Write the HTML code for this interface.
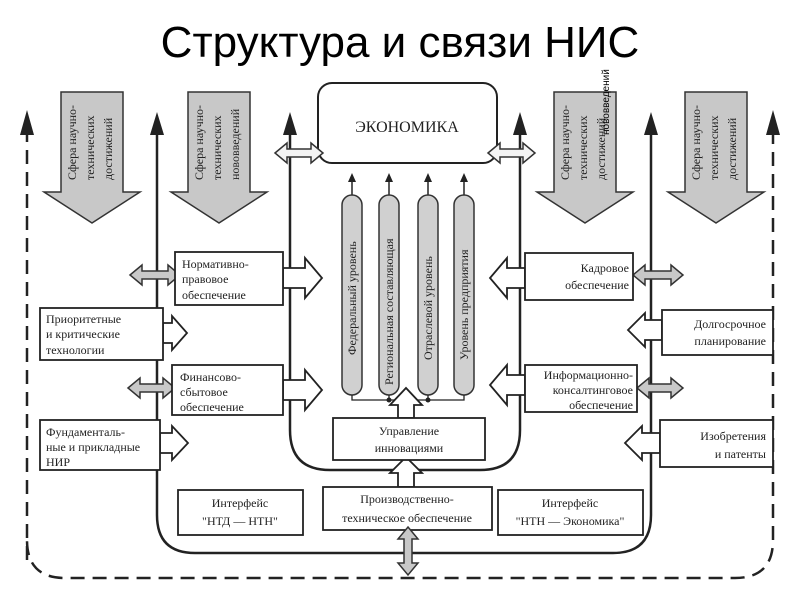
<!DOCTYPE html>
<html><head><meta charset="utf-8"><style>
html,body{margin:0;padding:0;background:#fff;}
svg{display:block;}
.s{font-family:"Liberation Serif","Noto Serif CJK SC",serif;fill:#222;}
</style></head><body>
<svg width="800" height="600" viewBox="0 0 800 600" xmlns="http://www.w3.org/2000/svg">
<defs>
<marker id="ah" markerWidth="8" markerHeight="10" refX="4" refY="10" orient="auto-start-reverse" markerUnits="userSpaceOnUse"><path d="M0,10 L4,0 L8,10 Z" fill="#222"/></marker>
</defs>
<text x="400" y="57" text-anchor="middle" font-family="Liberation Sans, sans-serif" font-size="44" fill="#000">Структура и связи НИС</text>

<!-- dashed outer -->
<path d="M27,560 L27,130 M773,130 L773,540 Q773,578 735,578 L65,578 Q27,578 27,540" fill="none" stroke="#222" stroke-width="2.5" stroke-dasharray="14,8"/>
<path d="M20,135 L27,110 L34,135 Z M766,135 L773,110 L780,135 Z" fill="#222"/>

<!-- solid verticals -->
<path d="M157,125 L157,515 Q157,553 195,553 L613,553 Q651,553 651,515 L651,125" fill="none" stroke="#222" stroke-width="2.5"/>
<path d="M290,125 L290,430 Q290,470 330,470 L480,470 Q520,470 520,430 L520,125" fill="none" stroke="#222" stroke-width="2.5"/>
<path d="M150,135 L157,112 L164,135 Z M283,135 L290,112 L297,135 Z M513,135 L520,112 L527,135 Z M644,135 L651,112 L658,135 Z" fill="#222"/>

<!-- big gray arrows -->
<g fill="#c8c8c8" stroke="#333" stroke-width="1.5">
<path d="M61,92 L123,92 L123,192 L140,192 L92,223 L44,192 L61,192 Z"/>
<path d="M188,92 L250,92 L250,192 L267,192 L219,223 L171,192 L188,192 Z"/>
<path d="M554,92 L616,92 L616,192 L633,192 L585,223 L537,192 L554,192 Z"/>
<path d="M685,92 L747,92 L747,192 L764,192 L716,223 L668,192 L685,192 Z"/>
</g>
<g class="s" font-size="12">
<text transform="translate(76,180) rotate(-90)">Сфера научно-</text>
<text transform="translate(94,180) rotate(-90)">технических</text>
<text transform="translate(112,180) rotate(-90)">достижений</text>
<text transform="translate(203,180) rotate(-90)">Сфера научно-</text>
<text transform="translate(221,180) rotate(-90)">технических</text>
<text transform="translate(239,180) rotate(-90)">нововведений</text>
<text transform="translate(569,180) rotate(-90)">Сфера научно-</text>
<text transform="translate(587,180) rotate(-90)">технических</text>
<text transform="translate(605,180) rotate(-90)">достижений</text>
<text transform="translate(700,180) rotate(-90)">Сфера научно-</text>
<text transform="translate(718,180) rotate(-90)">технических</text>
<text transform="translate(736,180) rotate(-90)">достижений</text>
</g>
<text transform="translate(609,135) rotate(-90)" font-family="Liberation Sans, sans-serif" font-size="10" fill="#000">нововведений</text>

<!-- economics -->
<rect x="318" y="83" width="179" height="80" rx="14" fill="#fff" stroke="#222" stroke-width="2"/>
<text x="407" y="132" text-anchor="middle" class="s" font-size="16">ЭКОНОМИКА</text>

<!-- white double arrows at econ -->
<g fill="#f4f4f4" stroke="#333" stroke-width="1.5">
<path d="M275,153 L287,143 L287,149 L311,149 L311,143 L323,153 L311,163 L311,157 L287,157 L287,163 Z"/>
<path d="M488,153 L500,143 L500,149 L523,149 L523,143 L535,153 L523,163 L523,157 L500,157 L500,163 Z"/>
</g>

<!-- pills -->
<g stroke="#222" stroke-width="1.5">
<line x1="352" y1="195" x2="352" y2="178"/><line x1="389" y1="195" x2="389" y2="178"/><line x1="428" y1="195" x2="428" y2="178"/><line x1="464" y1="195" x2="464" y2="178"/>
</g>
<path d="M348,182 L352,173 L356,182 Z M385,182 L389,173 L393,182 Z M424,182 L428,173 L432,182 Z M460,182 L464,173 L468,182 Z" fill="#222"/>
<g fill="#d0d0d0" stroke="#333" stroke-width="1.5">
<rect x="342" y="195" width="20" height="200" rx="10"/>
<rect x="379" y="195" width="20" height="200" rx="10"/>
<rect x="418" y="195" width="20" height="200" rx="10"/>
<rect x="454" y="195" width="20" height="200" rx="10"/>
</g>
<path d="M352,395 L352,400 L464,400 L464,395 M389,395 L389,400 M428,395 L428,400" fill="none" stroke="#222" stroke-width="1.3"/>
<circle cx="389" cy="400" r="2.5" fill="#222"/><circle cx="428" cy="400" r="2.5" fill="#222"/>
<g class="s" font-size="12">
<text transform="translate(356,355) rotate(-90)">Федеральный уровень</text>
<text transform="translate(393,385) rotate(-90)">Региональная составляющая</text>
<text transform="translate(432,360) rotate(-90)">Отраслевой уровень</text>
<text transform="translate(468,360) rotate(-90)">Уровень предприятия</text>
</g>

<!-- up arrows center -->
<g fill="#fff" stroke="#222" stroke-width="1.8">
<path d="M398,418 L398,405 L390,405 L406,388 L422,405 L414,405 L414,418 Z"/>
<path d="M398,487 L398,473 L390,473 L406,457 L422,473 L414,473 L414,487 Z"/>
</g>
<rect x="333" y="418" width="152" height="42" fill="#fff" stroke="#222" stroke-width="1.8"/>
<text x="409" y="435" text-anchor="middle" class="s" font-size="12">Управление</text>
<text x="409" y="452" text-anchor="middle" class="s" font-size="12">инновациями</text>

<rect x="323" y="487" width="169" height="43" fill="#fff" stroke="#222" stroke-width="1.8"/>
<text x="407" y="503" text-anchor="middle" class="s" font-size="12">Производственно-</text>
<text x="407" y="522" text-anchor="middle" class="s" font-size="12">техническое обеспечение</text>
<rect x="178" y="490" width="125" height="45" fill="#fff" stroke="#222" stroke-width="1.8"/>
<text x="240" y="507" text-anchor="middle" class="s" font-size="12">Интерфейс</text>
<text x="240" y="525" text-anchor="middle" class="s" font-size="12">"НТД — НТН"</text>
<rect x="498" y="490" width="145" height="45" fill="#fff" stroke="#222" stroke-width="1.8"/>
<text x="570" y="507" text-anchor="middle" class="s" font-size="12">Интерфейс</text>
<text x="570" y="525" text-anchor="middle" class="s" font-size="12">"НТН — Экономика"</text>
<path d="M408,527 L418,539 L412,539 L412,563 L418,563 L408,575 L398,563 L404,563 L404,539 L398,539 Z" fill="#c8c8c8" stroke="#333" stroke-width="1.5"/>

<!-- white side arrows -->
<g fill="#fff" stroke="#222" stroke-width="1.8">
<path d="M283,268 L305,268 L305,258 L322,278 L305,298 L305,288 L283,288 Z"/>
<path d="M163,323 L172,323 L172,316 L187,333 L172,350 L172,343 L163,343 Z"/>
<path d="M283,380 L305,380 L305,370 L322,390 L305,410 L305,400 L283,400 Z"/>
<path d="M160,433 L172,433 L172,426 L188,443 L172,460 L172,453 L160,453 Z"/>
<path d="M525,268 L507,268 L507,258 L490,278 L507,298 L507,288 L525,288 Z"/>
<path d="M662,320 L645,320 L645,313 L628,330 L645,347 L645,340 L662,340 Z"/>
<path d="M525,375 L507,375 L507,365 L490,385 L507,405 L507,395 L525,395 Z"/>
<path d="M660,433 L642,433 L642,426 L625,443 L642,460 L642,453 L660,453 Z"/>
</g>
<!-- gray double horizontal -->
<g fill="#c8c8c8" stroke="#333" stroke-width="1.5">
<path d="M130,275 L142,265 L142,271 L168,271 L168,265 L180,275 L168,285 L168,279 L142,279 L142,285 Z"/>
<path d="M128,388 L140,378 L140,384 L163,384 L163,378 L175,388 L163,398 L163,392 L140,392 L140,398 Z"/>
<path d="M633,275 L645,265 L645,271 L671,271 L671,265 L683,275 L671,285 L671,279 L645,279 L645,285 Z"/>
<path d="M637,388 L649,378 L649,384 L671,384 L671,378 L683,388 L671,398 L671,392 L649,392 L649,398 Z"/>
</g>

<!-- side boxes -->
<g fill="#fff" stroke="#222" stroke-width="1.8">
<rect x="175" y="252" width="108" height="53"/>
<rect x="40" y="308" width="123" height="52"/>
<rect x="172" y="365" width="111" height="50"/>
<rect x="40" y="420" width="120" height="50"/>
<rect x="525" y="253" width="108" height="47"/>
<rect x="662" y="310" width="111" height="45"/>
<rect x="525" y="365" width="112" height="47"/>
<rect x="660" y="420" width="113" height="47"/>
</g>
<g class="s" font-size="12">
<text x="182" y="268">Нормативно-</text><text x="182" y="283">правовое</text><text x="182" y="299">обеспечение</text>
<text x="46" y="323">Приоритетные</text><text x="46" y="338">и критические</text><text x="46" y="354">технологии</text>
<text x="180" y="381">Финансово-</text><text x="180" y="396">сбытовое</text><text x="180" y="411">обеспечение</text>
<text x="46" y="436">Фундаменталь-</text><text x="46" y="451">ные и прикладные</text><text x="46" y="466">НИР</text>
<text x="629" y="272" text-anchor="end">Кадровое</text><text x="629" y="289" text-anchor="end">обеспечение</text>
<text x="766" y="328" text-anchor="end">Долгосрочное</text><text x="766" y="345" text-anchor="end">планирование</text>
<text x="633" y="379" text-anchor="end">Информационно-</text><text x="633" y="394" text-anchor="end">консалтинговое</text><text x="633" y="409" text-anchor="end">обеспечение</text>
<text x="766" y="440" text-anchor="end">Изобретения</text><text x="766" y="458" text-anchor="end">и патенты</text>
</g>
</svg>
</body></html>
